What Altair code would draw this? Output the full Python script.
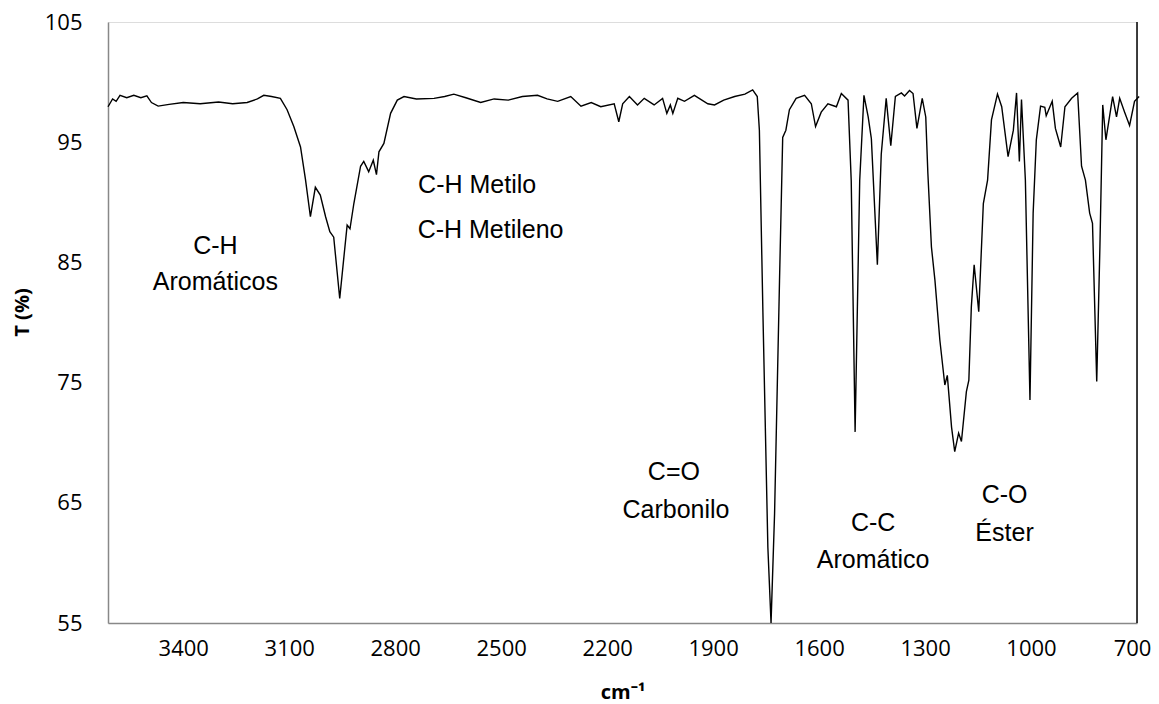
import altair as alt
import pandas as pd

# Wavenumber (cm-1) and transmittance (%)
wavenumber = [3613, 3600, 3590, 3579, 3560, 3540, 3520, 3503, 3490, 3471, 3440, 3400, 3352, 3300,
              3260, 3219, 3190, 3172, 3150, 3125, 3106, 3087, 3068, 3054, 3040, 3026, 3012, 2997,
              2985, 2974, 2957, 2945, 2936, 2928, 2917, 2898, 2889, 2875, 2862, 2853, 2846, 2832,
              2813, 2794, 2775, 2740, 2690, 2660, 2634, 2600, 2558, 2520, 2480, 2440, 2397, 2370,
              2340, 2303, 2274, 2245, 2218, 2180, 2167, 2156, 2137, 2114, 2095, 2067, 2043, 2031,
              2021, 2014, 2000, 1981, 1953, 1915, 1896, 1870, 1839, 1810, 1788, 1775, 1769, 1759,
              1745, 1736, 1726, 1712, 1703, 1694, 1684, 1665, 1641, 1622, 1610, 1594, 1575, 1551,
              1537, 1518, 1509, 1498, 1485, 1473, 1461, 1452, 1435, 1424, 1410, 1397, 1384, 1367,
              1358, 1344, 1334, 1323, 1308, 1298, 1292, 1282, 1272, 1258, 1244, 1237, 1225, 1216,
              1205, 1197, 1183, 1176, 1169, 1161, 1148, 1135, 1123, 1112, 1095, 1083, 1065, 1050,
              1041, 1033, 1027, 1016, 1003, 994, 985, 973, 961, 957, 940, 931, 916, 904, 885, 868,
              857, 846, 834, 826, 814, 805, 797, 788, 769, 758, 749, 735, 721, 707, 694]
transmittance = [97.95, 98.6, 98.4, 98.9, 98.7, 98.9, 98.7, 98.85, 98.3, 98.0, 98.15, 98.3, 98.2, 98.35,
                 98.2, 98.3, 98.6, 98.9, 98.8, 98.65, 97.7, 96.3, 94.6, 91.9, 88.8, 91.25, 90.6, 88.8,
                 87.55, 87.1, 82.0, 85.5, 88.1, 87.8, 89.9, 93.0, 93.4, 92.55, 93.5, 92.3, 94.2, 94.9,
                 97.4, 98.5, 98.8, 98.6, 98.65, 98.8, 99.0, 98.7, 98.3, 98.6, 98.5, 98.8, 98.9, 98.6,
                 98.4, 98.8, 98.0, 98.3, 97.95, 98.2, 96.7, 98.2, 98.8, 98.1, 98.65, 98.1, 98.65, 97.4,
                 98.1, 97.4, 98.65, 98.4, 98.9, 98.2, 98.1, 98.5, 98.8, 99.0, 99.35, 98.8, 96.0, 80.8,
                 61.3, 55.0, 64.1, 83.5, 95.4, 96.0, 97.7, 98.65, 98.9, 98.2, 96.3, 97.5, 98.2, 97.95,
                 99.05, 98.5, 91.8, 70.9, 91.8, 98.9, 97.1, 95.3, 84.8, 94.0, 98.65, 94.7, 98.8, 99.1,
                 98.85, 99.3, 99.05, 96.15, 98.65, 97.1, 92.4, 86.3, 83.5, 78.5, 74.8, 75.6, 71.3, 69.25,
                 70.8, 70.1, 74.25, 75.2, 81.3, 84.8, 80.9, 89.9, 91.85, 96.85, 99.0, 97.95, 93.8, 96.0,
                 99.1, 93.4, 98.55, 91.85, 73.55, 89.1, 95.2, 98.0, 97.9, 97.2, 98.4, 96.15, 94.6, 97.95, 98.65, 99.1,
                 93.0, 91.85, 89.1, 88.25, 75.1, 86.3, 98.1, 95.2, 98.8, 97.1, 98.65, 97.5, 96.4, 98.4, 98.8]

# Band annotations (text, anchor wavenumber, anchor transmittance)
label_text = ["C-H", "Aromáticos", "C-H Metilo", "C-H Metileno", "C=O", "Carbonilo",
              "C-C", "Aromático", "C-O", "Éster"]
label_wn = [3309, 3309, 2568, 2530, 2011, 2005, 1447, 1447, 1075, 1075]
label_t = [86.4, 83.4, 91.45, 87.7, 67.55, 64.4, 63.3, 60.25, 65.65, 62.5]

x_ticks = [3400, 3100, 2800, 2500, 2200, 1900, 1600, 1300, 1000, 700]
y_ticks = [55, 65, 75, 85, 95, 105]

spec = pd.DataFrame({"wn": wavenumber, "t": transmittance})
labels = pd.DataFrame({"text": label_text, "wn": label_wn, "t": label_t})
edge = pd.DataFrame({"wn": [700]})

x_scale = alt.Scale(domain=[700, 3613], reverse=True, nice=False, zero=False)
y_scale = alt.Scale(domain=[55, 105], nice=False, zero=False)

x_axis = alt.Axis(values=x_ticks, format="d", title="cm⁻¹", grid=False, ticks=False,
                  labelFont="Open Sans", labelFontSize=22, labelColor="black",
                  labelPadding=15, domainColor="#888888", domainWidth=1.5,
                  labelOffset={"condition": {"test": "datum.value === 700", "value": -5}, "value": 0},
                  titleFont="Open Sans", titleFontSize=20, titleFontWeight="bold",
                  titleColor="black", titleBaseline="alphabetic", titleY=75,
                  labelOverlap=False, labelFlush=False)
y_axis = alt.Axis(values=y_ticks, format="d", title="T (%)", grid=False, ticks=False,
                  labelFont="Open Sans", labelFontSize=22, labelColor="black",
                  labelPadding=26, domainColor="#888888", domainWidth=1.5,
                  titleFont="Open Sans", titleFontSize=20, titleFontWeight="bold",
                  titleColor="black", titlePadding=12, titleY=290,
                  labelOverlap=False, labelFlush=False)

line = alt.Chart(spec).mark_line(color="black", strokeWidth=1.4, clip=False).encode(
    x=alt.X("wn:Q", scale=x_scale, axis=x_axis, sort=None),
    y=alt.Y("t:Q", scale=y_scale, axis=y_axis),
    order="wn:Q",
)

right_edge = alt.Chart(edge).mark_rule(color="black", strokeWidth=1.5).encode(
    x=alt.X("wn:Q", scale=x_scale),
)

text = alt.Chart(labels).mark_text(font="Liberation Sans", fontSize=25, color="black",
                                   align="center", baseline="middle").encode(
    x=alt.X("wn:Q", scale=x_scale),
    y=alt.Y("t:Q", scale=y_scale),
    text="text:N",
)

chart = alt.layer(line, right_edge, text).properties(
    width=1029, height=601,
    padding={"left": 100, "top": 14, "right": 14, "bottom": 80},
    autosize=alt.AutoSizeParams(type="none"),
).configure_view(stroke="#888888", strokeWidth=1.5).configure(background="white")

chart.save("out.html", embed_options={"renderer": "svg", "actions": False})
